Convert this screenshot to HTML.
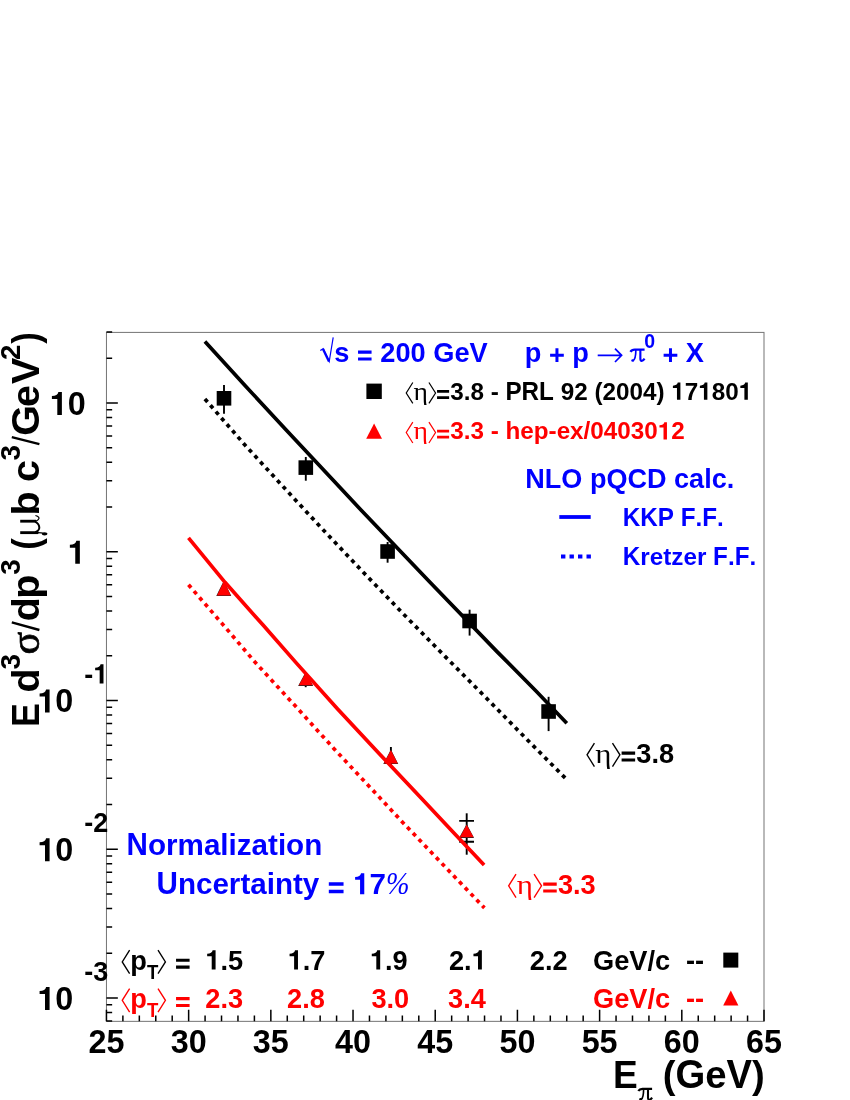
<!DOCTYPE html>
<html><head><meta charset="utf-8"><title>pi0 cross section</title>
<style>
html,body{margin:0;padding:0;background:#fff;}
body{width:850px;height:1100px;overflow:hidden;font-family:"Liberation Sans",sans-serif;}
svg{display:block;will-change:transform;font-kerning:none;}
</style></head>
<body>
<svg width="850" height="1100" viewBox="0 0 850 1100">
<rect width="850" height="1100" fill="#fff"/>
<rect x="106.45" y="332.40" width="657.55" height="688.95" fill="none" stroke="#000" stroke-width="1" opacity="0.55"/>
<path d="M106.45,1021.35v-11.6 M122.89,1021.35v-5.8 M139.33,1021.35v-5.8 M155.77,1021.35v-5.8 M172.20,1021.35v-5.8 M188.64,1021.35v-11.6 M205.08,1021.35v-5.8 M221.52,1021.35v-5.8 M237.96,1021.35v-5.8 M254.40,1021.35v-5.8 M270.84,1021.35v-11.6 M287.28,1021.35v-5.8 M303.71,1021.35v-5.8 M320.15,1021.35v-5.8 M336.59,1021.35v-5.8 M353.03,1021.35v-11.6 M369.47,1021.35v-5.8 M385.91,1021.35v-5.8 M402.35,1021.35v-5.8 M418.79,1021.35v-5.8 M435.22,1021.35v-11.6 M451.66,1021.35v-5.8 M468.10,1021.35v-5.8 M484.54,1021.35v-5.8 M500.98,1021.35v-5.8 M517.42,1021.35v-11.6 M533.86,1021.35v-5.8 M550.30,1021.35v-5.8 M566.74,1021.35v-5.8 M583.17,1021.35v-5.8 M599.61,1021.35v-11.6 M616.05,1021.35v-5.8 M632.49,1021.35v-5.8 M648.93,1021.35v-5.8 M665.37,1021.35v-5.8 M681.81,1021.35v-11.6 M698.25,1021.35v-5.8 M714.68,1021.35v-5.8 M731.12,1021.35v-5.8 M747.56,1021.35v-5.8 M764.00,1021.35v-11.6 M106.45,1021.04h5.7 M106.45,1012.42h5.7 M106.45,1004.81h5.7 M106.45,998.00h11.4 M106.45,953.22h5.7 M106.45,927.03h5.7 M106.45,908.44h5.7 M106.45,894.03h5.7 M106.45,882.25h5.7 M106.45,872.29h5.7 M106.45,863.67h5.7 M106.45,856.06h5.7 M106.45,849.25h11.4 M106.45,804.47h5.7 M106.45,778.28h5.7 M106.45,759.69h5.7 M106.45,745.28h5.7 M106.45,733.50h5.7 M106.45,723.54h5.7 M106.45,714.92h5.7 M106.45,707.31h5.7 M106.45,700.50h11.4 M106.45,655.72h5.7 M106.45,629.53h5.7 M106.45,610.94h5.7 M106.45,596.53h5.7 M106.45,584.75h5.7 M106.45,574.79h5.7 M106.45,566.17h5.7 M106.45,558.56h5.7 M106.45,551.75h11.4 M106.45,506.97h5.7 M106.45,480.78h5.7 M106.45,462.19h5.7 M106.45,447.78h5.7 M106.45,436.00h5.7 M106.45,426.04h5.7 M106.45,417.42h5.7 M106.45,409.81h5.7 M106.45,403.00h11.4 M106.45,358.22h5.7 M106.45,332.03h5.7" stroke="#000" stroke-width="1.5" fill="none"/>
<g font-size="32.3" fill="#000" font-family="Liberation Sans, sans-serif" font-weight="bold" ><text x="88.49" y="1053.20">25</text></g>
<g font-size="32.3" fill="#000" font-family="Liberation Sans, sans-serif" font-weight="bold" ><text x="170.68" y="1053.20">30</text></g>
<g font-size="32.3" fill="#000" font-family="Liberation Sans, sans-serif" font-weight="bold" ><text x="252.87" y="1053.20">35</text></g>
<g font-size="32.3" fill="#000" font-family="Liberation Sans, sans-serif" font-weight="bold" ><text x="335.07" y="1053.20">40</text></g>
<g font-size="32.3" fill="#000" font-family="Liberation Sans, sans-serif" font-weight="bold" ><text x="417.26" y="1053.20">45</text></g>
<g font-size="32.3" fill="#000" font-family="Liberation Sans, sans-serif" font-weight="bold" ><text x="499.46" y="1053.20">50</text></g>
<g font-size="32.3" fill="#000" font-family="Liberation Sans, sans-serif" font-weight="bold" ><text x="581.65" y="1053.20">55</text></g>
<g font-size="32.3" fill="#000" font-family="Liberation Sans, sans-serif" font-weight="bold" ><text x="663.84" y="1053.20">60</text></g>
<g font-size="32.3" fill="#000" font-family="Liberation Sans, sans-serif" font-weight="bold" ><text x="746.04" y="1053.20">65</text></g>
<path d="M61.88,414.90L61.88,391.97L58.39,391.97C57.94,394.49 55.68,396.00 51.90,396.07L51.90,399.07L57.30,399.07L57.30,414.90Z" fill="#000"/>
<g font-size="32.3" fill="#000" font-family="Liberation Sans, sans-serif" font-weight="bold" ><text x="67.64" y="414.90">0</text></g>
<path d="M79.85,563.65L79.85,540.72L76.36,540.72C75.91,543.24 73.64,544.75 69.86,544.82L69.86,547.82L75.26,547.82L75.26,563.65Z" fill="#000"/>
<g font-size="32.3" fill="#000" font-family="Liberation Sans, sans-serif" font-weight="bold" ></g>
<path d="M49.58,712.40L49.58,689.47L46.09,689.47C45.64,691.99 43.38,693.50 39.60,693.57L39.60,696.57L45.00,696.57L45.00,712.40Z" fill="#000"/>
<g font-size="32.3" fill="#000" font-family="Liberation Sans, sans-serif" font-weight="bold" ><text x="55.34" y="712.40">0</text></g>
<path d="M103.49,683.50L103.49,664.33L100.57,664.33C100.20,666.44 98.31,667.71 95.15,667.76L95.15,670.27L99.66,670.27L99.66,683.50Z" fill="#000"/>
<g font-size="27.0" fill="#000" font-family="Liberation Sans, sans-serif" font-weight="bold" ><text x="84.29" y="683.50">-</text></g>
<path d="M49.58,861.15L49.58,838.22L46.09,838.22C45.64,840.74 43.38,842.25 39.60,842.32L39.60,845.32L45.00,845.32L45.00,861.15Z" fill="#000"/>
<g font-size="32.3" fill="#000" font-family="Liberation Sans, sans-serif" font-weight="bold" ><text x="55.34" y="861.15">0</text></g>
<g font-size="27.0" fill="#000" font-family="Liberation Sans, sans-serif" font-weight="bold" ><text x="84.29" y="832.25">-2</text></g>
<path d="M49.58,1009.90L49.58,986.97L46.09,986.97C45.64,989.49 43.38,991.00 39.60,991.07L39.60,994.07L45.00,994.07L45.00,1009.90Z" fill="#000"/>
<g font-size="32.3" fill="#000" font-family="Liberation Sans, sans-serif" font-weight="bold" ><text x="55.34" y="1009.90">0</text></g>
<g font-size="27.0" fill="#000" font-family="Liberation Sans, sans-serif" font-weight="bold" ><text x="84.29" y="981.00">-3</text></g>
<text transform="translate(612.9,1087.9) scale(0.97,1)" font-size="38.25" font-family="Liberation Sans, sans-serif" font-weight="bold">E</text>
<g fill="none" stroke="#000"><path d="M638.35,1090.98C639.28,1089.34 640.66,1088.86 642.48,1088.86L652.10,1088.86" stroke-width="2.25"/><path d="M643.60,1089.20C643.60,1094.64 642.93,1098.77 640.66,1099.80" stroke-width="1.64"/><path d="M648.00,1089.20L648.00,1097.39C648.00,1100.41 650.09,1100.73 652.10,1097.58" stroke-width="2.07"/></g>
<circle cx="640.42" cy="1099.35" r="1.25" fill="#000"/>
<g font-size="38.25" fill="#000" font-family="Liberation Sans, sans-serif" font-weight="bold" ><text x="662.70" y="1087.90">(</text><text transform="translate(675.44,1087.90) scale(1,1.044)">G</text><text x="705.19" y="1087.90">e</text><text transform="translate(726.46,1087.90) scale(1,1.044)">V</text><text x="751.97" y="1087.90">)</text></g>
<g transform="translate(38.7,725.0) rotate(-90)">
<text transform="translate(-2.10,0.00) scale(0.91,1)" font-size="39.5" font-family="Liberation Sans, sans-serif" font-weight="bold">E</text>
<text transform="translate(32.50,0.00) scale(1.0,1)" font-size="39.5" font-family="Liberation Sans, sans-serif" font-weight="bold">d</text>
<text transform="translate(55.40,-19.00) scale(1.0,1)" font-size="27.7" font-family="Liberation Sans, sans-serif" font-weight="bold">3</text>
<text transform="translate(70.50,0.00) scale(1.05,1)" font-size="40" font-family="Liberation Serif, serif" stroke="#000" stroke-width="0.7">σ</text>
<text transform="translate(103.80,0.00) scale(1.0,1)" font-size="39.5" font-family="Liberation Sans, sans-serif" font-weight="bold">d</text>
<text transform="translate(126.30,0.00) scale(1.0,1)" font-size="39.5" font-family="Liberation Sans, sans-serif" font-weight="bold">p</text>
<text transform="translate(150.30,-19.00) scale(1.0,1)" font-size="27.7" font-family="Liberation Sans, sans-serif" font-weight="bold">3</text>
<text transform="translate(175.30,0.00) scale(0.88,1)" font-size="39.5" font-family="Liberation Sans, sans-serif" font-weight="bold">(</text>
<text transform="translate(209.50,0.00) scale(1.0,1)" font-size="39.5" font-family="Liberation Sans, sans-serif" font-weight="bold">b</text>
<text transform="translate(242.90,0.00) scale(1.0,1)" font-size="39.5" font-family="Liberation Sans, sans-serif" font-weight="bold">c</text>
<text transform="translate(264.40,-19.00) scale(1.0,1)" font-size="27.7" font-family="Liberation Sans, sans-serif" font-weight="bold">3</text>
<text transform="translate(289.30,0.00) scale(1.0,1)" font-size="39.5" font-family="Liberation Sans, sans-serif" font-weight="bold">G</text>
<text transform="translate(317.90,0.00) scale(1.0,1)" font-size="39.5" font-family="Liberation Sans, sans-serif" font-weight="bold">e</text>
<text transform="translate(340.90,0.00) scale(1.0,1)" font-size="39.5" font-family="Liberation Sans, sans-serif" font-weight="bold">V</text>
<text transform="translate(364.90,-19.00) scale(1.0,1)" font-size="27.7" font-family="Liberation Sans, sans-serif" font-weight="bold">2</text>
<text transform="translate(381.20,0.00) scale(0.88,1)" font-size="39.5" font-family="Liberation Sans, sans-serif" font-weight="bold">)</text>
<g fill="none" stroke="#000"><path d="M192.35,-18.5V-0.3" stroke-width="2.85"/><path d="M192.35,-1C192.3,2 192.0,4 191.5,5.6" stroke-width="1.1"/><path d="M203.8,-18.5V-2.6" stroke-width="2.85"/><path d="M203.6,-4C204.3,-0.8 206.3,0.9 207.6,0.1C208.6,-0.6 209.2,-1.9 209.5,-3.3" stroke-width="1.2"/><path d="M192.9,-3.4C194.2,0.1 195.9,0.7 197.6,0.6C199.9,0.4 202.0,-0.8 203.3,-3.6" stroke-width="2.0"/></g>
<ellipse cx="191.2" cy="5.9" rx="1.6" ry="2.9" fill="#000"/>
<path d="M95.0,0.7L102.6,-26.9M280.9,0.7L287.9,-26.9" stroke="#000" stroke-width="2.4" fill="none"/>
</g>
<line x1="224.00" y1="385.10" x2="224.00" y2="413.80" stroke="#000" stroke-width="1.9"/>
<rect x="216.70" y="391.00" width="14.6" height="14.6" fill="#000"/>
<line x1="305.80" y1="457.00" x2="305.80" y2="480.70" stroke="#000" stroke-width="1.9"/>
<rect x="298.50" y="460.30" width="14.6" height="14.6" fill="#000"/>
<line x1="387.60" y1="542.00" x2="387.60" y2="562.70" stroke="#000" stroke-width="1.9"/>
<rect x="380.30" y="544.20" width="14.6" height="14.6" fill="#000"/>
<line x1="469.60" y1="609.70" x2="469.60" y2="635.60" stroke="#000" stroke-width="1.9"/>
<rect x="462.30" y="613.70" width="14.6" height="14.6" fill="#000"/>
<line x1="548.60" y1="696.80" x2="548.60" y2="731.10" stroke="#000" stroke-width="1.9"/>
<rect x="541.30" y="704.20" width="14.6" height="14.6" fill="#000"/>
<line x1="305.70" y1="675.00" x2="305.70" y2="687.20" stroke="#000" stroke-width="1.9"/>
<line x1="390.90" y1="747.00" x2="390.90" y2="766.00" stroke="#000" stroke-width="1.9"/>
<line x1="466.70" y1="813.30" x2="466.70" y2="854.70" stroke="#000" stroke-width="1.9"/>
<path d="M459.2,820.9h14.8M459.2,841.8h14.8" stroke="#000" stroke-width="1.9"/>
<polygon points="223.90,580.60 216.25,596.00 231.25,596.00" fill="#222"/>
<polygon points="223.90,581.20 216.95,595.40 230.85,595.40" fill="#ff0000"/>
<polygon points="305.80,671.80 298.15,685.90 313.15,685.90" fill="#222"/>
<polygon points="305.80,672.40 298.85,685.30 312.75,685.30" fill="#ff0000"/>
<polygon points="390.90,749.40 383.25,764.10 398.25,764.10" fill="#222"/>
<polygon points="390.90,750.00 383.95,763.50 397.85,763.50" fill="#ff0000"/>
<polygon points="466.70,824.10 459.05,837.90 474.05,837.90" fill="#222"/>
<polygon points="466.70,824.70 459.75,837.30 473.65,837.30" fill="#ff0000"/>
<path d="M204.9,341.6 L245.0,385.5 L286.2,430.0 L340.0,487.6 L361.0,510.0 L430.0,582.2 L497.0,651.6 L536.0,691.0 L566.8,723.2" fill="none" stroke="#000" stroke-width="3.7" stroke-linejoin="round"/>
<path d="M204.9,399.0 L244.5,444.5 L284.0,487.6 L323.3,530.0 L363.5,572.5 L404.1,614.7 L445.0,656.4 L485.9,697.6 L526.5,739.0 L566.6,779.4" fill="none" stroke="#000" stroke-width="3.7" stroke-dasharray="4.0 4.37" stroke-linejoin="round"/>
<path d="M188.5,537.9 L225.0,582.3 L262.6,624.6 L296.0,662.6 L337.6,709.0 L380.0,754.4 L421.8,798.8 L452.5,831.4 L484.1,864.9" fill="none" stroke="#ff0000" stroke-width="3.7" stroke-linejoin="round"/>
<path d="M188.5,584.8 L222.1,623.6 L254.7,661.8 L294.5,705.1 L333.5,748.2 L379.2,797.1 L401.8,821.4 L436.1,857.4 L484.4,907.9" fill="none" stroke="#ff0000" stroke-width="3.7" stroke-dasharray="4.0 4.37" stroke-linejoin="round"/>
<path d="M320.3,350.6 L323.2,348.7 L329.2,361.6 L333.2,337.3" fill="none" stroke="#0000ff" stroke-width="1.2" stroke-linejoin="miter"/>
<path d="M323.0,348.9 L329.0,361.4" fill="none" stroke="#0000ff" stroke-width="2.4"/>
<path d="M358.03,360.55H371.57V357.42H358.03ZM358.03,353.67H371.57V350.54H358.03Z" fill="#0000ff"/>
<g font-size="27.2" fill="#0000ff" font-family="Liberation Sans, sans-serif" font-weight="bold" ><text x="334.20" y="361.50">s</text><text x="380.33" y="361.50">200</text><text transform="translate(433.26,361.50) scale(1,1.044)">G</text><text x="454.42" y="361.50">e</text><text transform="translate(469.55,361.50) scale(1,1.044)">V</text></g>
<path d="M550.10,356.66H563.80V353.67H550.10ZM555.45,362.04H558.45V348.31H555.45Z" fill="#0000ff"/>
<g font-size="27.2" fill="#0000ff" font-family="Liberation Sans, sans-serif" font-weight="bold" ><text x="524.70" y="361.50">p</text><text x="572.31" y="361.50">p</text></g>
<path d="M597.7,355.3H621.0M615.0,348.6L621.6,355.3L615.0,362" fill="none" stroke="#0000ff" stroke-width="1.7"/>
<g fill="none" stroke="#0000ff"><path d="M630.46,351.83C631.41,350.14 632.83,349.65 634.71,349.65L644.58,349.65" stroke-width="2.31"/><path d="M635.85,350.00C635.85,355.58 635.17,359.82 632.83,360.88" stroke-width="1.69"/><path d="M640.36,350.00L640.36,358.41C640.36,361.51 642.51,361.84 644.58,358.60" stroke-width="2.12"/></g>
<circle cx="632.58" cy="360.42" r="1.28" fill="#0000ff"/>
<g font-size="19.5" fill="#0000ff" font-family="Liberation Sans, sans-serif" font-weight="bold" ><text x="644.20" y="348.40">0</text></g>
<path d="M663.62,356.66H677.33V353.67H663.62ZM668.98,362.04H671.97V348.31H668.98Z" fill="#0000ff"/>
<g font-size="27.2" fill="#0000ff" font-family="Liberation Sans, sans-serif" font-weight="bold" ><text transform="translate(685.84,361.50) scale(1,1.044)">X</text></g>
<rect x="366.40" y="383.60" width="15.4" height="15.4" fill="#000"/>
<polyline points="412.82,382.46 406.25,392.95 412.82,403.44" fill="none" stroke="#000" stroke-width="1.21" stroke-linejoin="miter"/>
<text transform="translate(413.55,399.80) scale(1.14,1)" font-size="24.25" fill="#000" font-family="Liberation Serif, serif">η</text>
<polyline points="428.92,382.46 435.54,392.95 428.92,403.44" fill="none" stroke="#000" stroke-width="1.21" stroke-linejoin="miter"/>
<path d="M437.05,398.95H449.12V396.16H437.05ZM437.05,392.82H449.12V390.03H437.05ZM680.40,399.80L680.40,382.58L677.78,382.58C677.44,384.47 675.74,385.61 672.91,385.66L672.91,387.92L676.96,387.92L676.96,399.80ZM707.37,399.80L707.37,382.58L704.75,382.58C704.42,384.47 702.72,385.61 699.88,385.66L699.88,387.92L703.93,387.92L703.93,399.80ZM747.83,399.80L747.83,382.58L745.21,382.58C744.88,384.47 743.18,385.61 740.34,385.66L740.34,387.92L744.39,387.92L744.39,399.80Z" fill="#000"/>
<g font-size="24.25" fill="#000" font-family="Liberation Sans, sans-serif" font-weight="bold" ><text x="450.19" y="399.80">3.8</text><text x="490.64" y="399.80">-</text><text transform="translate(505.45,399.80) scale(1,1.044)">PRL</text><text x="560.69" y="399.80">92</text><text x="594.40" y="399.80">(2004)</text><text x="684.72" y="399.80">7</text><text x="711.69" y="399.80">80</text></g>
<polygon points="374.1,423.6 366.2,438.8 382.0,438.8" fill="#ff0000"/>
<polyline points="412.82,422.06 406.25,432.55 412.82,443.04" fill="none" stroke="#ff0000" stroke-width="1.21" stroke-linejoin="miter"/>
<text transform="translate(413.55,439.40) scale(1.14,1)" font-size="24.25" fill="#ff0000" font-family="Liberation Serif, serif">η</text>
<polyline points="428.92,422.06 435.54,432.55 428.92,443.04" fill="none" stroke="#ff0000" stroke-width="1.21" stroke-linejoin="miter"/>
<path d="M437.05,438.55H449.12V435.76H437.05ZM437.05,432.42H449.12V429.63H437.05ZM666.95,439.40L666.95,422.18L664.33,422.18C663.99,424.07 662.29,425.21 659.46,425.26L659.46,427.52L663.51,427.52L663.51,439.40Z" fill="#ff0000"/>
<g font-size="24.25" fill="#ff0000" font-family="Liberation Sans, sans-serif" font-weight="bold" ><text x="450.19" y="439.40">3.3</text><text x="490.64" y="439.40">-</text><text x="505.45" y="439.40">hep-ex/04030</text><text x="671.27" y="439.40">2</text></g>
<g font-size="27.05" fill="#0000ff" font-family="Liberation Sans, sans-serif" font-weight="bold" ><text transform="translate(525.30,488.00) scale(1,1.044)">NLO</text><text x="589.91" y="488.00">p</text><text transform="translate(606.44,488.00) scale(1,1.044)">QCD</text><text x="674.06" y="488.00">calc.</text></g>
<line x1="559.3" y1="517.0" x2="590.7" y2="517.0" stroke="#0000ff" stroke-width="3.8"/>
<g font-size="24.25" fill="#0000ff" font-family="Liberation Sans, sans-serif" font-weight="bold" ><text transform="translate(622.80,525.80) scale(1,1.044)">KKP</text><text transform="translate(680.74,525.80) scale(1,1.044)">F</text><text x="695.55" y="525.80">.</text><text transform="translate(702.29,525.80) scale(1,1.044)">F</text><text x="717.10" y="525.80">.</text></g>
<line x1="561.0" y1="556.5" x2="591.0" y2="556.5" stroke="#0000ff" stroke-width="3.8" stroke-dasharray="4.4 4.1"/>
<g font-size="24.25" fill="#0000ff" font-family="Liberation Sans, sans-serif" font-weight="bold" ><text transform="translate(622.80,565.00) scale(1,1.044)">K</text><text x="640.31" y="565.00">retzer</text><text transform="translate(713.10,565.00) scale(1,1.044)">F</text><text x="727.91" y="565.00">.</text><text transform="translate(734.65,565.00) scale(1,1.044)">F</text><text x="749.46" y="565.00">.</text></g>
<polyline points="594.42,743.05 587.05,754.82 594.42,766.58" fill="none" stroke="#000" stroke-width="1.36" stroke-linejoin="miter"/>
<text transform="translate(595.24,762.50) scale(1.14,1)" font-size="27.2" fill="#000" font-family="Liberation Serif, serif">η</text>
<polyline points="612.48,743.05 619.91,754.82 612.48,766.58" fill="none" stroke="#000" stroke-width="1.36" stroke-linejoin="miter"/>
<path d="M621.60,761.55H635.14V758.42H621.60ZM621.60,754.67H635.14V751.54H621.60Z" fill="#000"/>
<g font-size="27.2" fill="#000" font-family="Liberation Sans, sans-serif" font-weight="bold" ><text x="636.34" y="762.50">3.8</text></g>
<polyline points="516.02,874.05 508.65,885.82 516.02,897.58" fill="none" stroke="#ff0000" stroke-width="1.36" stroke-linejoin="miter"/>
<text transform="translate(516.84,893.50) scale(1.14,1)" font-size="27.2" fill="#ff0000" font-family="Liberation Serif, serif">η</text>
<polyline points="534.08,874.05 541.51,885.82 534.08,897.58" fill="none" stroke="#ff0000" stroke-width="1.36" stroke-linejoin="miter"/>
<path d="M543.20,892.55H556.74V889.42H543.20ZM543.20,885.67H556.74V882.54H543.20Z" fill="#ff0000"/>
<g font-size="27.2" fill="#ff0000" font-family="Liberation Sans, sans-serif" font-weight="bold" ><text x="557.94" y="893.50">3.3</text></g>
<g font-size="29.6" fill="#0000ff" font-family="Liberation Sans, sans-serif" font-weight="bold" ><text transform="translate(126.60,855.30) scale(1,1.044)">N</text><text x="147.98" y="855.30">ormalization</text></g>
<path d="M328.81,893.16H343.55V889.76H328.81ZM328.81,885.68H343.55V882.27H328.81ZM364.27,894.20L364.27,873.18L361.07,873.18C360.65,875.49 358.58,876.88 355.12,876.94L355.12,879.70L360.06,879.70L360.06,894.20Z" fill="#0000ff"/>
<g font-size="29.6" fill="#0000ff" font-family="Liberation Sans, sans-serif" font-weight="bold" ><text transform="translate(156.50,894.20) scale(1,1.044)">U</text><text x="177.88" y="894.20">ncertainty</text><text x="369.54" y="894.20">7</text></g>
<text transform="translate(386.0,893.9) scale(0.91,1)" font-size="31" fill="#0000ff" font-style="italic" font-family="Liberation Serif, serif">%</text>
<polyline points="129.62,950.15 122.25,961.92 129.62,973.68" fill="none" stroke="#000" stroke-width="1.36" stroke-linejoin="miter"/>
<g font-size="27.2" fill="#000" font-family="Liberation Sans, sans-serif" font-weight="bold" ><text x="130.20" y="969.60">p</text></g>
<g font-size="18.6" fill="#000" font-family="Liberation Sans, sans-serif" font-weight="bold" ><text transform="translate(147.00,978.90) scale(1,1.044)">T</text></g>
<polyline points="158.00,950.15 165.43,961.92 158.00,973.68" fill="none" stroke="#000" stroke-width="1.36" stroke-linejoin="miter"/>
<path d="M176.04,968.65H189.59V965.52H176.04ZM176.04,961.77H189.59V958.64H176.04Z" fill="#000"/>
<g font-size="27.2" fill="#000" font-family="Liberation Sans, sans-serif" font-weight="bold" ></g>
<path d="M215.58,969.60L215.58,950.29L212.64,950.29C212.26,952.41 210.35,953.69 207.17,953.74L207.17,956.27L211.71,956.27L211.71,969.60Z" fill="#000"/>
<g font-size="27.2" fill="#000" font-family="Liberation Sans, sans-serif" font-weight="bold" ><text x="220.42" y="969.60">.5</text></g>
<path d="M297.98,969.60L297.98,950.29L295.04,950.29C294.66,952.41 292.75,953.69 289.57,953.74L289.57,956.27L294.11,956.27L294.11,969.60Z" fill="#000"/>
<g font-size="27.2" fill="#000" font-family="Liberation Sans, sans-serif" font-weight="bold" ><text x="302.82" y="969.60">.7</text></g>
<path d="M380.18,969.60L380.18,950.29L377.24,950.29C376.86,952.41 374.95,953.69 371.77,953.74L371.77,956.27L376.31,956.27L376.31,969.60Z" fill="#000"/>
<g font-size="27.2" fill="#000" font-family="Liberation Sans, sans-serif" font-weight="bold" ><text x="385.02" y="969.60">.9</text></g>
<path d="M481.86,969.60L481.86,950.29L478.92,950.29C478.54,952.41 476.64,953.69 473.46,953.74L473.46,956.27L478.00,956.27L478.00,969.60Z" fill="#000"/>
<g font-size="27.2" fill="#000" font-family="Liberation Sans, sans-serif" font-weight="bold" ><text x="448.89" y="969.60">2.</text></g>
<g font-size="27.2" fill="#000" font-family="Liberation Sans, sans-serif" font-weight="bold" ><text x="529.79" y="969.60">2.2</text></g>
<g font-size="27.2" fill="#000" font-family="Liberation Sans, sans-serif" font-weight="bold" ><text transform="translate(593.00,969.60) scale(1,1.044)">G</text><text x="614.16" y="969.60">e</text><text transform="translate(629.28,969.60) scale(1,1.044)">V</text><text x="647.43" y="969.60">/c</text></g>
<g font-size="27.2" fill="#000" font-family="Liberation Sans, sans-serif" font-weight="bold" ><text x="686.00" y="969.60">--</text></g>
<polyline points="129.62,988.55 122.25,1000.32 129.62,1012.08" fill="none" stroke="#ff0000" stroke-width="1.36" stroke-linejoin="miter"/>
<g font-size="27.2" fill="#ff0000" font-family="Liberation Sans, sans-serif" font-weight="bold" ><text x="130.20" y="1008.00">p</text></g>
<g font-size="18.6" fill="#ff0000" font-family="Liberation Sans, sans-serif" font-weight="bold" ><text transform="translate(147.00,1017.30) scale(1,1.044)">T</text></g>
<polyline points="158.00,988.55 165.43,1000.32 158.00,1012.08" fill="none" stroke="#ff0000" stroke-width="1.36" stroke-linejoin="miter"/>
<path d="M176.04,1007.05H189.59V1003.92H176.04ZM176.04,1000.17H189.59V997.04H176.04Z" fill="#ff0000"/>
<g font-size="27.2" fill="#ff0000" font-family="Liberation Sans, sans-serif" font-weight="bold" ></g>
<g font-size="27.2" fill="#ff0000" font-family="Liberation Sans, sans-serif" font-weight="bold" ><text x="205.29" y="1008.00">2.3</text></g>
<g font-size="27.2" fill="#ff0000" font-family="Liberation Sans, sans-serif" font-weight="bold" ><text x="287.09" y="1008.00">2.8</text></g>
<g font-size="27.2" fill="#ff0000" font-family="Liberation Sans, sans-serif" font-weight="bold" ><text x="371.39" y="1008.00">3.0</text></g>
<g font-size="27.2" fill="#ff0000" font-family="Liberation Sans, sans-serif" font-weight="bold" ><text x="448.09" y="1008.00">3.4</text></g>
<g font-size="27.2" fill="#ff0000" font-family="Liberation Sans, sans-serif" font-weight="bold" ><text transform="translate(593.00,1008.00) scale(1,1.044)">G</text><text x="614.16" y="1008.00">e</text><text transform="translate(629.28,1008.00) scale(1,1.044)">V</text><text x="647.43" y="1008.00">/c</text></g>
<g font-size="27.2" fill="#ff0000" font-family="Liberation Sans, sans-serif" font-weight="bold" ><text x="686.00" y="1008.00">--</text></g>
<rect x="723.30" y="952.60" width="15.0" height="15.0" fill="#000"/>
<polygon points="730.8,990.4 723.2,1005.6 738.4,1005.6" fill="#ff0000"/>
</svg>
</body></html>
